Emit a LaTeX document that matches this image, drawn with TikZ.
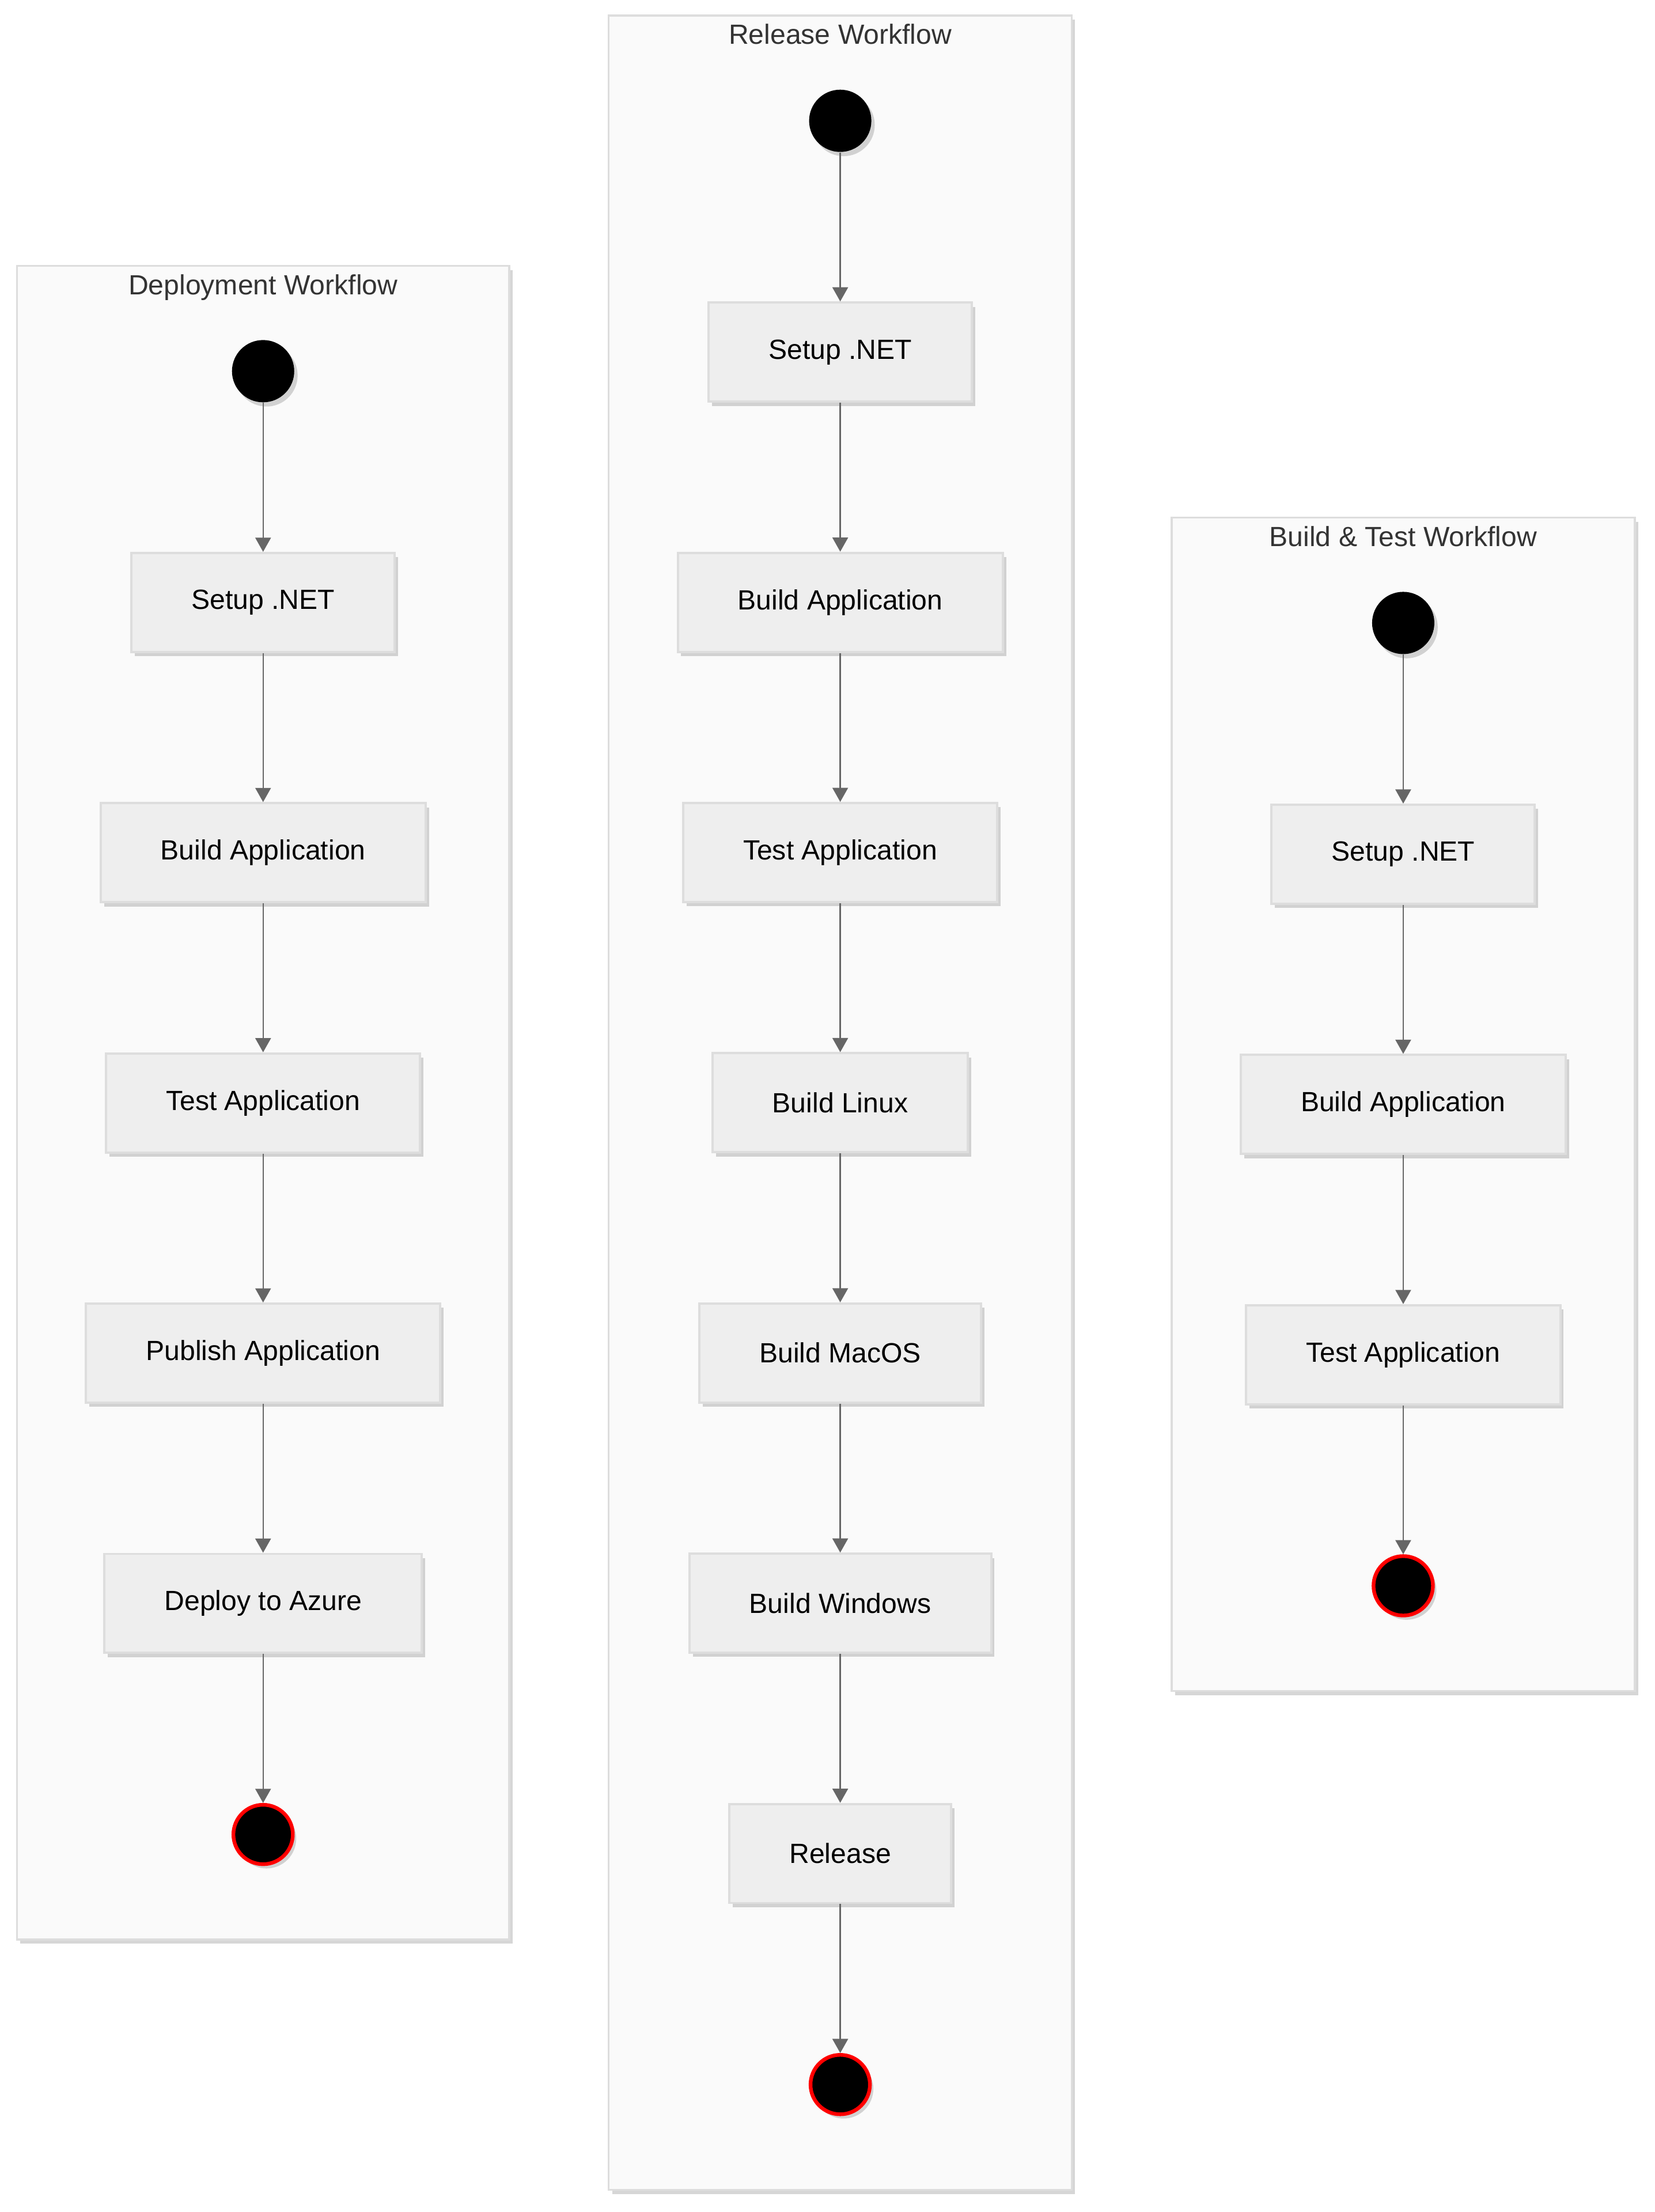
\documentclass[tikz,border=0pt]{standalone}
\usepackage{fontspec}
\setmainfont{Liberation Sans}
\usepackage{xcolor}
\usetikzlibrary{
    arrows.meta,
    positioning,
    fit,
    backgrounds,
    shadows,
}
\definecolor{clusterfill}{HTML}{FAFAFA}
\definecolor{clusterline}{HTML}{DDDDDD}
\definecolor{jobfill}{HTML}{EEEEEE}
\definecolor{jobline}{HTML}{DDDDDD}
\definecolor{edgegray}{HTML}{666666}
\definecolor{titlegray}{HTML}{333333}

\begin{document}
\begin{tikzpicture}[
        >={Triangle[length=5pt, width=5.5pt]},
        node distance=52.65pt,
        softshadow/.style={
            drop shadow={shadow xshift=1.2pt, shadow yshift=-1.5pt, opacity=0.16, fill=black}
        },
        job/.style={
            rectangle, draw=jobline, line width=0.8pt, fill=jobfill,
            minimum height=35pt, inner xsep=21.2pt,
            font=\fontsize{9.8}{11}\selectfont, softshadow
        },
        startdot/.style={
            circle, fill=black, minimum size=22pt, inner sep=0pt, softshadow
        },
        enddot/.style={
            circle, fill=black, draw=red, line width=1.3pt,
            minimum size=21pt, inner sep=0pt, softshadow
        },
        cluster/.style={
            rectangle, draw=clusterline, line width=0.7pt, fill=clusterfill,
            inner xsep=24pt, inner ysep=26pt, softshadow
        },
        clustertitle/.style={
            font=\fontsize{9.8}{11}\selectfont, text=titlegray, inner sep=0pt, anchor=base
        },
        arrow/.style={->, line width=0.5pt, edgegray},
    ]
    \useasboundingbox (0,0) rectangle (585pt,-781.9pt);

    % ── Deployment workflow ──
    \node[startdot] (dstart) at (93pt,-131.2pt) {};
    \node[job, below=of dstart] (dsetup) {Setup .NET};
    \node[job, below=of dsetup] (dbuild) {Build Application};
    \node[job, below=of dbuild] (dtest) {Test Application};
    \node[job, below=of dtest] (dpublish) {Publish Application};
    \node[job, below=of dpublish] (ddeploy) {Deploy to Azure};
    \node[enddot, below=of ddeploy] (dend) {};

    % ── Release workflow ──
    \node[startdot] (rstart) at (297pt,-42.7pt) {};
    \node[job, below=of rstart] (rsetup) {Setup .NET};
    \node[job, below=of rsetup] (rbuild) {Build Application};
    \node[job, below=of rbuild] (rtest) {Test Application};
    \node[job, below=of rtest] (rlinux) {Build Linux};
    \node[job, below=of rlinux] (rmacos) {Build MacOS};
    \node[job, below=of rmacos] (rwindows) {Build Windows};
    \node[job, below=of rwindows] (rrelease) {Release};
    \node[enddot, below=of rrelease] (rend) {};

    % ── Build & test workflow ──
    \node[startdot] (bstart) at (496pt,-220.2pt) {};
    \node[job, below=of bstart] (bsetup) {Setup .NET};
    \node[job, below=of bsetup] (bbuild) {Build Application};
    \node[job, below=of bbuild] (btest) {Test Application};
    \node[enddot, below=of btest] (bend) {};

    % ── Clusters ──
    \begin{scope}[on background layer]
        \node[cluster, fit=(dstart)(dsetup)(dbuild)(dtest)(dpublish)(ddeploy)(dend)] (dbox) {};
        \node[cluster, fit=(rstart)(rsetup)(rbuild)(rtest)(rlinux)(rmacos)(rwindows)(rrelease)(rend)] (rbox) {};
        \node[cluster, fit=(bstart)(bsetup)(bbuild)(btest)(bend)] (bbox) {};
    \end{scope}
    \node[clustertitle] (dtitle) at ([yshift=-10.5pt]dbox.north) {Deployment Workflow};
    \node[clustertitle] (rtitle) at ([yshift=-10.5pt]rbox.north) {Release Workflow};
    \node[clustertitle] (btitle) at ([yshift=-10.5pt]bbox.north) {Build \& Test Workflow};

    % ── Arrows ──
    \draw[arrow] (dstart) -- (dsetup);
    \draw[arrow] (dsetup) -- (dbuild);
    \draw[arrow] (dbuild) -- (dtest);
    \draw[arrow] (dtest) -- (dpublish);
    \draw[arrow] (dpublish) -- (ddeploy);
    \draw[arrow] (ddeploy) -- (dend);

    \draw[arrow] (rstart) -- (rsetup);
    \draw[arrow] (rsetup) -- (rbuild);
    \draw[arrow] (rbuild) -- (rtest);
    \draw[arrow] (rtest) -- (rlinux);
    \draw[arrow] (rlinux) -- (rmacos);
    \draw[arrow] (rmacos) -- (rwindows);
    \draw[arrow] (rwindows) -- (rrelease);
    \draw[arrow] (rrelease) -- (rend);

    \draw[arrow] (bstart) -- (bsetup);
    \draw[arrow] (bsetup) -- (bbuild);
    \draw[arrow] (bbuild) -- (btest);
    \draw[arrow] (btest) -- (bend);

\end{tikzpicture}
\end{document}
